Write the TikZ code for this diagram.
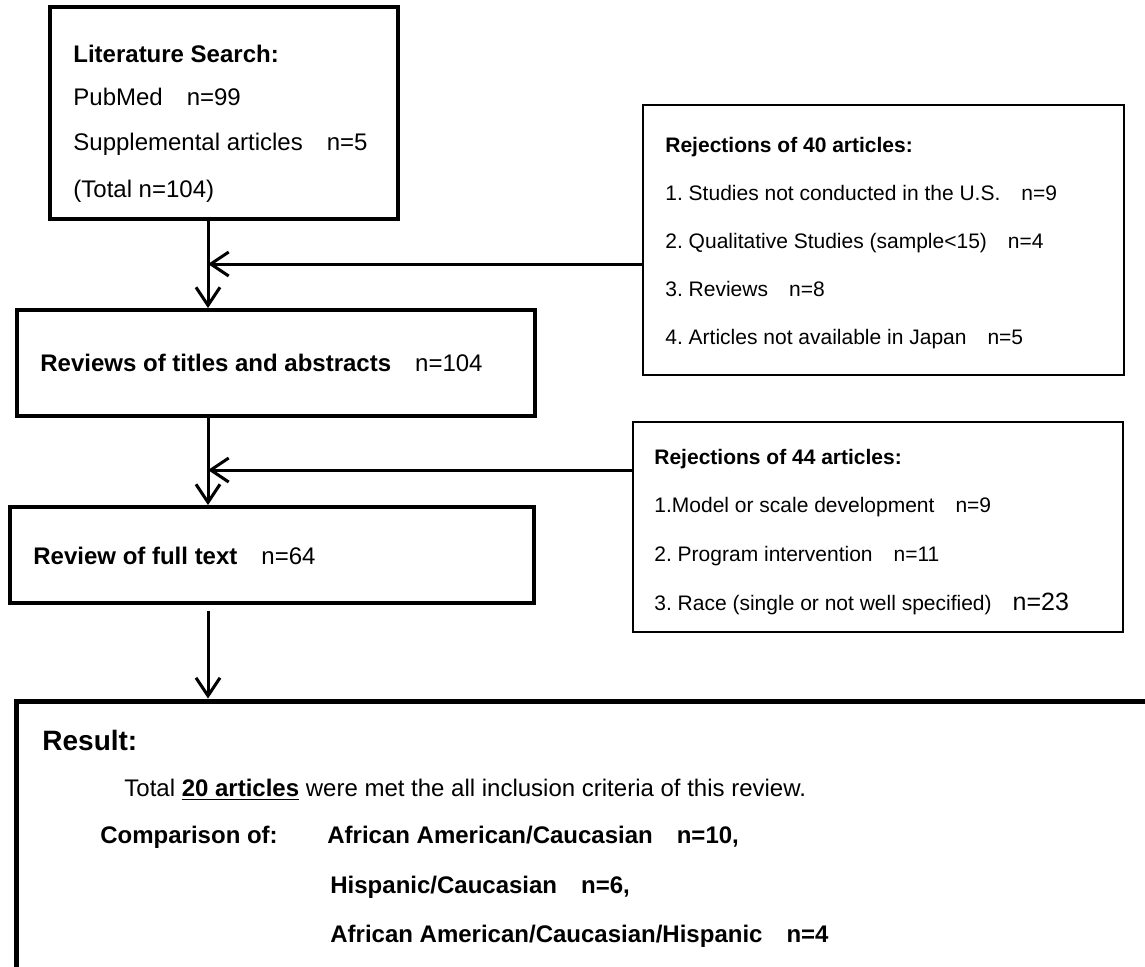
\documentclass[tikz,border=0pt]{standalone}
\usepackage{fontspec}
\setmainfont{Liberation Sans}
\usetikzlibrary{arrows.meta,fit}
\frenchspacing

\tikzset{
  frame/.style={draw, line width=2pt, inner sep=0pt},
  thinframe/.style={draw, line width=1.3pt, inner sep=0pt},
  flow/.style={draw, line width=1.5pt, -{Straight Barb[length=9pt,width=12pt,line width=1.5pt]}},
  txt/.style={anchor=base west, inner sep=0pt, font=\fontsize{12pt}{14pt}\selectfont},
  smalltxt/.style={anchor=base west, inner sep=0pt, font=\fontsize{10.5pt}{12pt}\selectfont},
}

\begin{document}
\begin{tikzpicture}[x=0.5pt, y=-0.5pt]
  \clip (0,0) rectangle (1145,966);
  \fill[white] (0,0) rectangle (1145,966);

  % BOXES
  \node[frame, fit={(50,7) (398,219)}] (search) {};
  \node[frame, fit={(17,310) (535,416)}] (screen) {};
  \node[frame, fit={(10,507) (534,603)}] (fulltext) {};
  \node[thinframe, fit={(643,105) (1124,375)}] (rejA) {};
  \node[thinframe, fit={(633,422) (1123,632)}] (rejB) {};
  \node[draw, line width=2.5pt, inner sep=0pt, fit={(16,701) (1175,1010)}] (result) {};

  % literature search
  \node[txt] (searchHead) at (73,62) {\textbf{Literature Search:}};
  \node[txt] (pubmed) at (73,105) {PubMed\quad n=99};
  \node[txt] (suppl) at (73,150) {Supplemental articles\quad n=5};
  \node[txt] (total) at (73,197) {(Total n=104)};

  % screening
  \node[txt] (screenTxt) at (40,371) {\textbf{Reviews of titles and abstracts}\quad n=104};
  \node[txt] (fullTxt) at (33,564) {\textbf{Review of full text}\quad n=64};

  % rejections, first round
  \node[smalltxt] (rejAHead) at (665,152) {\textbf{Rejections of 40 articles:}};
  \node[smalltxt] (rejA1) at (665,200) {1. Studies not conducted in the U.S.\quad n=9};
  \node[smalltxt] (rejA2) at (665,248) {2. Qualitative Studies (sample<15)\quad n=4};
  \node[smalltxt] (rejA3) at (665,296) {3. Reviews\quad n=8};
  \node[smalltxt] (rejA4) at (665,344) {4. Articles not available in Japan\quad n=5};

  % rejections, second round
  \node[smalltxt] (rejBHead) at (654,464) {\textbf{Rejections of 44 articles:}};
  \node[smalltxt] (rejB1) at (654,512) {1.Model or scale development\quad n=9};
  \node[smalltxt] (rejB2) at (654,561) {2. Program intervention\quad n=11};
  \node[smalltxt] (rejB3) at (654,610) {3. Race (single or not well specified)\quad{\fontsize{12.5pt}{14pt}\selectfont n=23}};

  % result
  \node[txt, font=\fontsize{14pt}{16pt}\selectfont\bfseries] (resultHead) at (42,750) {Result:};
  \node[txt] (resultTotal) at (124,796) {Total \underline{\textbf{20 articles}} were met the all inclusion criteria of this review.};
  \node[txt] (compare) at (100,843) {\textbf{Comparison of:}};
  \node[txt] (pairA) at (327,843) {\textbf{African American/Caucasian\quad n=10,}};
  \node[txt] (pairB) at (330,893) {\textbf{Hispanic/Caucasian\quad n=6,}};
  \node[txt] (pairC) at (330,942) {\textbf{African American/Caucasian/Hispanic\quad n=4}};

  % CONNECTORS
  \coordinate (trunk) at (208,0);
  \coordinate (joinA) at (208,264);
  \coordinate (joinB) at (208,470);
  \draw[flow] (search.south -| trunk) -- (screen.north -| trunk);
  \draw[flow] (screen.south -| trunk) -- (fulltext.north -| trunk);
  \draw[flow] ([yshift=-3pt]fulltext.south -| trunk) -- (result.north -| trunk);
  \draw[flow] (rejA.west |- joinA) -- (joinA);
  \draw[flow] (rejB.west |- joinB) -- (joinB);
\end{tikzpicture}
\end{document}
